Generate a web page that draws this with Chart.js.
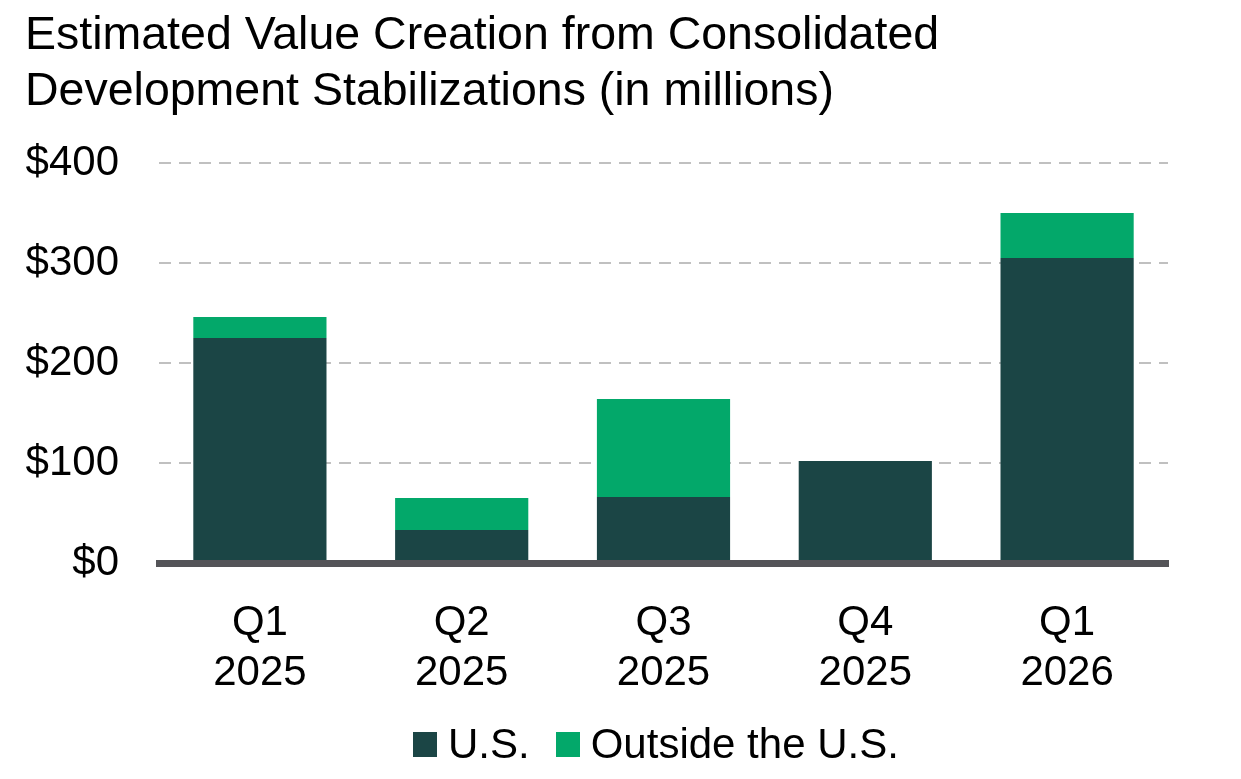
<!DOCTYPE html>
<html>
<head>
<meta charset="utf-8">
<script src="https://cdn.jsdelivr.net/npm/chart.js@4"></script>
<style>
  html, body { margin: 0; padding: 0; background: #fff; }
  #wrap { position: relative; width: 1241px; height: 779px; font-family: "Liberation Sans", Arial, sans-serif; color: #000; }
  #chart { position: absolute; left: 0; top: 0; }
  #title { position: absolute; left: 25px; top: 5px; font-size: 46.5px; line-height: 56px; white-space: nowrap; }
  #legend { position: absolute; left: 413px; top: 717px; height: 54px; display: flex; align-items: center; font-size: 42px; white-space: nowrap; }
  .box { width: 24px; height: 25px; margin-right: 11px; }
  .item { display: flex; align-items: center; margin-right: 26px; }
</style>
</head>
<body>
<div id="wrap">
  <canvas id="chart" width="1241" height="779"></canvas>
  <div id="title">Estimated Value Creation from Consolidated<br>Development Stabilizations (in millions)</div>
  <div id="legend"></div>
</div>
<script>
/* ---- data ---- */
const quarters   = [['Q1', '2025'], ['Q2', '2025'], ['Q3', '2025'], ['Q4', '2025'], ['Q1', '2026']];
const usValues   = [225, 33, 66, 102, 305];
const outsideUS  = [21, 32, 98, 0, 45];
const seriesNames = ['U.S.', 'Outside the U.S.'];
const yTicks     = [0, 100, 200, 300, 400];

const COLORS = ['#1b4545', '#03a86a'];
const FONT = '"Liberation Sans", Arial, sans-serif';

/* ---- legend (html) ---- */
const legend = document.getElementById('legend');
seriesNames.forEach((name, i) => {
  const item = document.createElement('div');
  item.className = 'item';
  item.innerHTML = `<span class="box" style="background:${COLORS[i]}"></span><span>${name}</span>`;
  legend.appendChild(item);
});

/* ---- chart ---- */
new Chart(document.getElementById('chart'), {
  type: 'bar',
  data: {
    labels: quarters,
    datasets: [
      { label: seriesNames[0], data: usValues,  backgroundColor: COLORS[0] },
      { label: seriesNames[1], data: outsideUS, backgroundColor: COLORS[1] },
    ],
  },
  options: {
    responsive: false,
    animation: false,
    layout: { padding: { top: 163, left: 25, right: 73, bottom: 84 } },
    datasets: { bar: { categoryPercentage: 1, barPercentage: 0.66, borderWidth: 0 } },
    plugins: {
      legend: { display: false },
      title: { display: false },
      tooltip: { enabled: false },
    },
    scales: {
      x: {
        stacked: true,
        afterFit: axis => { axis.height = 132; },
        grid: { display: true, drawOnChartArea: false, drawTicks: false },
        border: { display: true, color: '#545458', width: 7, z: 1 },
        ticks: {
          color: '#000',
          padding: 35,
          maxRotation: 0,
          font: { family: FONT, size: 42, lineHeight: 1.19 },
        },
      },
      y: {
        stacked: true,
        min: yTicks[0],
        max: yTicks[yTicks.length - 1],
        afterBuildTicks: axis => { axis.ticks = yTicks.map(v => ({ value: v })); },
        afterFit: axis => { axis.width = 134; },
        grid: { color: '#c0c0c0', lineWidth: 2, drawTicks: false },
        border: { display: false, dash: [12, 8] },
        ticks: {
          color: '#000',
          padding: 40,
          font: { family: FONT, size: 42 },
          callback: v => '$' + v,
        },
      },
    },
  },
});
</script>
</body>
</html>
